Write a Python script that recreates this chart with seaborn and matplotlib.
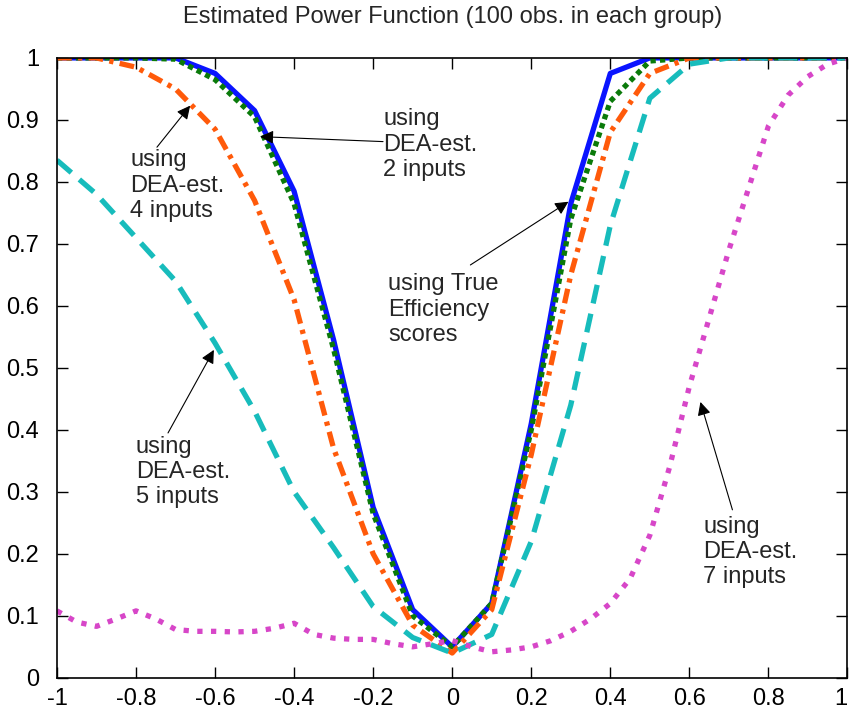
import matplotlib
matplotlib.use("Agg")
import matplotlib.pyplot as plt
import seaborn as sns
import pandas as pd

# shift of the efficiency distribution (x axis)
shift = [-1.0, -0.9, -0.8, -0.7, -0.6, -0.5, -0.4, -0.3, -0.2, -0.1, 0.0,
         0.1, 0.2, 0.3, 0.4, 0.5, 0.6, 0.7, 0.8, 0.9, 1.0]

# estimated power, one list per estimator
true_eff = [1.0, 1.0, 1.0, 1.0, 0.975, 0.915, 0.785, 0.545, 0.275, 0.11, 0.05,
            0.12, 0.41, 0.765, 0.975, 1.0, 1.0, 1.0, 1.0, 1.0, 1.0]
dea_2in = [1.0, 1.0, 1.0, 0.998, 0.965, 0.905, 0.765, 0.53, 0.265, 0.10, 0.05,
           0.12, 0.40, 0.74, 0.93, 0.995, 1.0, 1.0, 1.0, 1.0, 1.0]
dea_4in = [1.0, 1.0, 0.985, 0.95, 0.885, 0.77, 0.61, 0.37, 0.20, 0.085, 0.04,
           0.11, 0.36, 0.65, 0.88, 0.975, 1.0, 1.0, 1.0, 1.0, 1.0]
dea_5in = [0.835, 0.78, 0.71, 0.64, 0.54, 0.43, 0.30, 0.21, 0.115, 0.065, 0.04,
           0.07, 0.22, 0.44, 0.73, 0.935, 0.99, 1.0, 1.0, 1.0, 1.0]

shift_fine = [-1.0, -0.95, -0.9, -0.85, -0.8, -0.75, -0.7, -0.65, -0.6, -0.55,
              -0.5, -0.45, -0.4, -0.35, -0.3, -0.25, -0.2, -0.15, -0.1, -0.05,
              0.0, 0.05, 0.1, 0.15, 0.2, 0.25, 0.3, 0.35, 0.4, 0.45, 0.5, 0.55,
              0.6, 0.65, 0.7, 0.75, 0.8, 0.85, 0.9, 0.95, 1.0]
dea_7in = [0.108, 0.09, 0.083, 0.095, 0.108, 0.095, 0.078, 0.075, 0.075, 0.074,
           0.075, 0.08, 0.088, 0.07, 0.064, 0.062, 0.062, 0.055, 0.05, 0.055,
           0.06, 0.05, 0.042, 0.045, 0.05, 0.06, 0.075, 0.095, 0.12, 0.16, 0.23,
           0.34, 0.47, 0.58, 0.69, 0.79, 0.89, 0.94, 0.97, 0.99, 1.0]

xticks = [-1, -0.8, -0.6, -0.4, -0.2, 0, 0.2, 0.4, 0.6, 0.8, 1]
xticklabels = ["-1", "-0.8", "-0.6", "-0.4", "-0.2", "0", "0.2", "0.4", "0.6", "0.8", "1"]
yticks = [0, 0.1, 0.2, 0.3, 0.4, 0.5, 0.6, 0.7, 0.8, 0.9, 1]
yticklabels = ["0", "0.1", "0.2", "0.3", "0.4", "0.5", "0.6", "0.7", "0.8", "0.9", "1"]

sns.set_style("ticks")
plt.rcParams["font.family"] = ["Liberation Sans", "DejaVu Sans"]

df = pd.DataFrame({"shift": shift, "true": true_eff, "dea2": dea_2in,
                   "dea4": dea_4in, "dea5": dea_5in})
df7 = pd.DataFrame({"shift": shift_fine, "dea7": dea_7in})

fig = plt.figure(figsize=(8.5, 7.15), dpi=100)
ax = fig.add_axes([0.067, 0.052, 0.93, 0.867])

lw = 3.8
sns.lineplot(data=df, x="shift", y="true", ax=ax, color="#0a14ff", lw=lw)
sns.lineplot(data=df, x="shift", y="dea2", ax=ax, color="#0a7a0a", lw=lw,
             linestyle=(0, (1, 0.8)))
sns.lineplot(data=df, x="shift", y="dea4", ax=ax, color="#ff5a0a", lw=lw,
             linestyle=(0, (2.8, 1.2, 0.8, 1.2)))
sns.lineplot(data=df, x="shift", y="dea5", ax=ax, color="#17bcbc", lw=lw,
             linestyle=(0, (3.6, 2.0)))
sns.lineplot(data=df7, x="shift", y="dea7", ax=ax, color="#d746c8", lw=lw,
             linestyle=(0, (1, 1.6)))

ax.set_xlim(-1, 1)
ax.set_ylim(0, 1)
ax.set_xticks(xticks)
ax.set_xticklabels(xticklabels)
ax.set_yticks(yticks)
ax.set_yticklabels(yticklabels)
ax.set_xlabel("")
ax.set_ylabel("")
ax.tick_params(direction="in", length=8, width=1, labelsize=17, top=True,
               right=True, colors="black")
ax.tick_params(axis="y", pad=13)
ax.tick_params(axis="x", pad=7)
ax.get_xticklabels()[-1].set_horizontalalignment("right")
for sp in ax.spines.values():
    sp.set_visible(True)
    sp.set_linewidth(1.2)
    sp.set_color("black")
ax.set_title("Estimated Power Function (100 obs. in each group)", fontsize=17, pad=25)

fs = 17
ax.text(-0.815, 0.794, "using\nDEA-est.\n4 inputs", fontsize=fs, va="center", ha="left")
ax.text(-0.175, 0.860, "using\nDEA-est.\n2 inputs", fontsize=fs, va="center", ha="left")
ax.text(-0.162, 0.594, "using True\nEfficiency\nscores", fontsize=fs, va="center", ha="left")
ax.text(-0.800, 0.332, "using\nDEA-est.\n5 inputs", fontsize=fs, va="center", ha="left")
ax.text(0.635, 0.203, "using\nDEA-est.\n7 inputs", fontsize=fs, va="center", ha="left")

arrow = dict(arrowstyle="-|>", color="black", lw=0.8, mutation_scale=20,
             shrinkA=0, shrinkB=0)
ax.annotate("", xy=(-0.663, 0.923), xytext=(-0.747, 0.856), arrowprops=arrow)
ax.annotate("", xy=(-0.486, 0.873), xytext=(-0.175, 0.865), arrowprops=arrow)
ax.annotate("", xy=(0.294, 0.768), xytext=(0.046, 0.666), arrowprops=arrow)
ax.annotate("", xy=(-0.603, 0.529), xytext=(-0.719, 0.395), arrowprops=arrow)
ax.annotate("", xy=(0.628, 0.445), xytext=(0.709, 0.271), arrowprops=arrow)

fig.savefig("out.png", dpi=100)
